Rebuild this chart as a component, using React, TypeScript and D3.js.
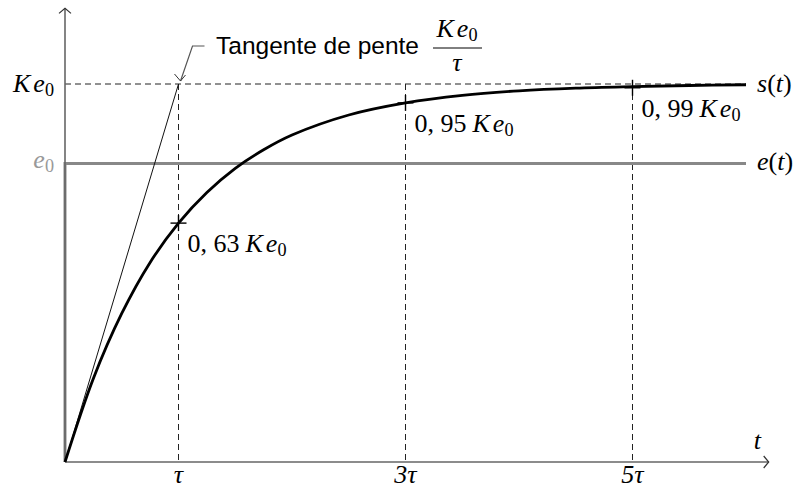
import React from 'react';
import * as d3 from 'd3';

// time in units of tau, response in units of K*e0
const tValues = [0, 0.25, 0.5, 0.75, 1, 1.25, 1.5, 1.75, 2, 2.5, 3, 3.5, 4, 4.5, 5, 5.5, 6];
const sValues = [0, 0.221, 0.393, 0.528, 0.632, 0.713, 0.777, 0.826, 0.865, 0.918, 0.95, 0.97, 0.982, 0.989, 0.993, 0.996, 0.998];
const e0Level = 0.79;
const tauTicks = [1, 3, 5];
const tauLabels = ['τ', '3τ', '5τ'];
const markLevels = [0.632, 0.95, 0.99];
const markLabels = ['0, 63', '0, 95', '0, 99'];

const W = 798;
const H = 490;
const serif = '"Liberation Serif", "DejaVu Serif", serif';
const sans = '"Liberation Sans", "DejaVu Sans", sans-serif';
const FS = 26;

const x = d3.scaleLinear().domain([0, 6]).range([65, 746]);
const y = d3.scaleLinear().domain([0, 1]).range([462, 84]);

const Ke0 = ({ size, lead = 0 }: { size: number; lead?: number }) => (
  <>
    <tspan fontStyle="italic" dx={lead}>K</tspan>
    <tspan fontStyle="italic" dx={3}>e</tspan>
    <tspan fontSize={size * 0.7} dy={size * 0.16}>0</tspan>
  </>
);

const App = () => {
  const line = d3.line<number>()
    .x((d, i) => x(tValues[i]))
    .y(d => y(d))
    .curve(d3.curveCatmullRom.alpha(0.5));

  const x0 = x(0), y0 = y(0);
  const xEnd = x(6.2), yTop = y(1.2);
  const axisColor = '#666';

  return (
    <svg width={W} height={H} style={{ position: 'absolute', left: 0, top: 0 }}>
      {/* dashed guides */}
      <line x1={x0} x2={x(6)} y1={y(1)} y2={y(1)} stroke="#222" strokeWidth={1} strokeDasharray="6,4" />
      {tauTicks.map(t => (
        <line key={t} x1={x(t)} x2={x(t)} y1={y(1)} y2={y0} stroke="#222" strokeWidth={1} strokeDasharray="6,4" />
      ))}

      {/* input step e(t) */}
      <path d={`M${x0},${y0}V${y(e0Level)}H${x(6)}`} fill="none" stroke="#888" strokeWidth={3} />

      {/* axes */}
      <line x1={x0} x2={xEnd} y1={y0} y2={y0} stroke={axisColor} strokeWidth={1.6} />
      <line x1={x0} x2={x0} y1={y0} y2={yTop} stroke={axisColor} strokeWidth={1.6} />
      <path d={`M${xEnd - 5},${y0 - 6}L${xEnd},${y0}L${xEnd - 5},${y0 + 6}`} fill="none" stroke="#333" strokeWidth={1.2} />
      <path d={`M${x0 - 6},${yTop + 5}L${x0},${yTop}L${x0 + 6},${yTop + 5}`} fill="none" stroke="#333" strokeWidth={1.2} />

      {/* tangent at origin */}
      <line x1={x0} y1={y0} x2={x(1)} y2={y(1)} stroke="#111" strokeWidth={1} />

      {/* response s(t) */}
      <path d={line(sValues) ?? ''} fill="none" stroke="#000" strokeWidth={2.8} />

      {/* markers on curve */}
      {tauTicks.map((t, i) => (
        <g key={t} stroke="#000" strokeWidth={1.4}>
          <line x1={x(t) - 8} x2={x(t) + 8} y1={y(markLevels[i])} y2={y(markLevels[i])} />
          <line x1={x(t)} x2={x(t)} y1={y(markLevels[i]) - 8} y2={y(markLevels[i]) + 8} />
        </g>
      ))}
      {tauTicks.map((t, i) => (
        <text key={t} x={x(t) + 9} y={y(markLevels[i]) + 29} fontFamily={serif} fontSize={FS} fill="#000">
          {markLabels[i]}
          <Ke0 size={FS} lead={6} />
        </text>
      ))}

      {/* axis labels */}
      {tauTicks.map((t, i) => (
        <text key={t} x={x(t)} y={y0 + 21} textAnchor="middle" fontFamily={serif} fontStyle="italic" fontSize={FS}>
          {tauLabels[i]}
        </text>
      ))}
      <text x={x(6.1)} y={y0 - 13} textAnchor="middle" fontFamily={serif} fontStyle="italic" fontSize={FS}>t</text>
      <text x={54} y={y(1) + 8} textAnchor="end" fontFamily={serif} fontSize={FS}><Ke0 size={FS} /></text>
      <text x={54} y={y(e0Level) + 5} textAnchor="end" fontFamily={serif} fontSize={FS} fill="#999">
        <tspan fontStyle="italic">e</tspan><tspan fontSize={FS * 0.7} dy={4}>0</tspan>
      </text>
      <text x={x(6) + 11} y={y(1) + 8} fontFamily={serif} fontSize={FS}>
        <tspan fontStyle="italic">s</tspan>(<tspan fontStyle="italic">t</tspan>)
      </text>
      <text x={x(6) + 11} y={y(e0Level) + 7} fontFamily={serif} fontSize={FS}>
        <tspan fontStyle="italic">e</tspan>(<tspan fontStyle="italic">t</tspan>)
      </text>

      {/* callout */}
      <path d={`M${x(1) + 26},${46}H${x(1) + 14}L${x(1) + 2},${y(1) - 3}`} fill="none" stroke="#555" strokeWidth={1.2} />
      <path d={`M${x(1) - 4},${y(1) - 10}L${x(1) + 2},${y(1) - 3}L${x(1) + 7},${y(1) - 9}`} fill="none" stroke="#333" strokeWidth={1} />
      <text x={216} y={54} fontFamily={sans} fontSize={24.5}>Tangente de pente</text>
      <text x={457} y={37} textAnchor="middle" fontFamily={serif} fontSize={FS}><Ke0 size={FS} /></text>
      <line x1={433} x2={482} y1={48} y2={48} stroke="#000" strokeWidth={1} />
      <text x={457} y={71} textAnchor="middle" fontFamily={serif} fontStyle="italic" fontSize={FS}>τ</text>
    </svg>
  );
};

export default App;
